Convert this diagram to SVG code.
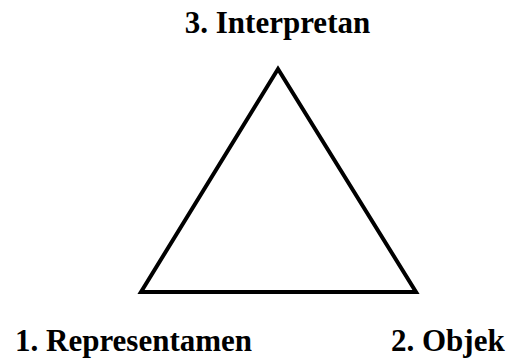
<svg xmlns="http://www.w3.org/2000/svg" width="509" height="360" viewBox="0 0 509 360">
<style>
.lbl{font-family:"Liberation Serif","Times New Roman",serif;font-weight:bold;font-size:31px;fill:#000}
</style>
<rect width="509" height="360" fill="#fff"/>
<g id="connectors">
<polygon points="278,69 141,292 416,292" fill="none" stroke="#000" stroke-width="4" stroke-linejoin="miter"/>
</g>
<g id="node-interpretan"><text class="lbl" x="277.5" y="33" text-anchor="middle">3. Interpretan</text></g>
<g id="node-representamen"><text class="lbl" x="15" y="351">1. Representamen</text></g>
<g id="node-objek"><text class="lbl" x="391" y="351">2. Objek</text></g>
</svg>
